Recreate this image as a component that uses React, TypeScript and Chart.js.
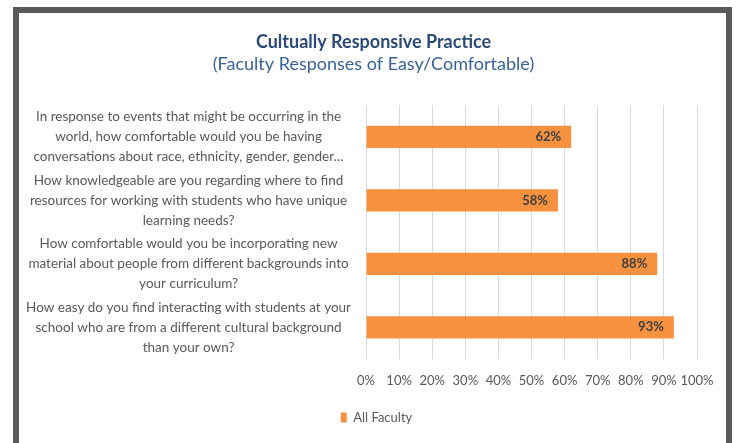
import React, { useEffect, useRef } from "react";
import { Chart, registerables } from "chart.js";

Chart.register(...registerables);

const categories: string[][] = [
  [
    "In response to events that might be occurring in the",
    "world, how comfortable would you be having",
    "conversations about race, ethnicity, gender, gender…",
  ],
  [
    "How knowledgeable are you regarding where to find",
    "resources for working with students who have unique",
    "learning needs?",
  ],
  [
    "How comfortable would you be incorporating new",
    "material about people from different backgrounds into",
    "your curriculum?",
  ],
  [
    "How easy do you find interacting with students at your",
    "school who are from a different cultural background",
    "than your own?",
  ],
];

const allFaculty: number[] = [62, 58, 88, 93];
const seriesName = "All Faculty";
const titleText = "Cultually Responsive Practice";
const subtitleText = "(Faculty Responses of Easy/Comfortable)";

const FONT = "Lato, 'Open Sans', sans-serif";

const valueLabelPlugin = {
  id: "valueLabels",
  afterDatasetsDraw(chart: any) {
    const ctx = chart.ctx;
    chart.data.datasets.forEach((ds: any, di: number) => {
      const meta = chart.getDatasetMeta(di);
      meta.data.forEach((bar: any, i: number) => {
        const v = ds.data[i];
        ctx.save();
        ctx.font = `bold 13px ${FONT}`;
        ctx.fillStyle = "#404040";
        ctx.textAlign = "right";
        ctx.textBaseline = "middle";
        ctx.fillText(`${v}%`, bar.x - 10, bar.y);
        ctx.restore();
      });
    });
  },
};

const boxShiftPlugin = {
  id: "boxShift",
  afterLayout(chart: any) {
    chart.boxes.forEach((b: any) => {
      if (b.position === "top") {
        b.left += 15;
        b.right += 15;
      }
    });
    if (chart.legend) {
      chart.legend.left += 18;
      chart.legend.right += 18;
    }
  },
};

export default function App() {
  const ref = useRef<HTMLCanvasElement | null>(null);

  useEffect(() => {
    if (!ref.current) return;
    const chart = new Chart(ref.current, {
      type: "bar",
      data: {
        labels: categories,
        datasets: [
          {
            label: seriesName,
            data: allFaculty,
            backgroundColor: "#F5913F",
            borderWidth: 0,
            categoryPercentage: 1,
            barPercentage: 0.35,
          },
        ],
      },
      options: {
        indexAxis: "y",
        animation: false,
        responsive: false,
        maintainAspectRatio: false,
        layout: { padding: { left: 20, right: 40, top: 0, bottom: 9 } },
        scales: {
          x: {
            min: 0,
            max: 100,
            ticks: {
              stepSize: 10,
              autoSkip: false,
              callback: (v: any) => `${v}%`,
              color: "#595959",
              font: { family: FONT, size: 13 },
              padding: 14,
              maxRotation: 0,
            },
            grid: { color: "#D9D9D9", drawTicks: false },
            border: { display: false },
            afterFit: (s: any) => {
              s.height = 42;
            },
          },
          y: {
            ticks: {
              color: "#595959",
              font: { family: FONT, size: 13.5, lineHeight: 1.48 },
              crossAlign: "center",
              padding: 7,
            },
            grid: { display: false },
            border: { display: false },
            afterFit: (s: any) => {
              s.width = 346;
            },
          },
        },
        plugins: {
          title: {
            display: true,
            text: titleText,
            color: "#2B4A78",
            font: { family: FONT, size: 18, weight: "bold", lineHeight: 1.2 },
            padding: { top: 31, bottom: 0 },
          },
          subtitle: {
            display: true,
            text: subtitleText,
            color: "#3A629A",
            font: { family: FONT, size: 18, weight: "normal", lineHeight: 1.2 },
            padding: { top: 1, bottom: 30 },
          },
          legend: {
            position: "bottom",
            labels: {
              color: "#595959",
              font: { family: FONT, size: 13 },
              boxWidth: 6,
              boxHeight: 10,
              padding: 10,
            },
          },
          tooltip: { enabled: false },
        },
      },
      plugins: [valueLabelPlugin, boxShiftPlugin],
    } as any);
    return () => chart.destroy();
  }, []);

  return (
    <div
      style={{
        position: "fixed",
        left: 0,
        top: 0,
        width: 737,
        height: 443,
        background: "#fff",
        overflow: "hidden",
      }}
    >
      <div
        style={{
          position: "absolute",
          left: 13,
          top: 7,
          width: 719,
          height: 470,
          border: "6px solid #5A5A5A",
          boxSizing: "border-box",
          background: "#fff",
        }}
      />
      <canvas
        ref={ref}
        width={737}
        height={443}
        style={{ position: "absolute", left: 0, top: 0, width: 737, height: 443 }}
      />
    </div>
  );
}
